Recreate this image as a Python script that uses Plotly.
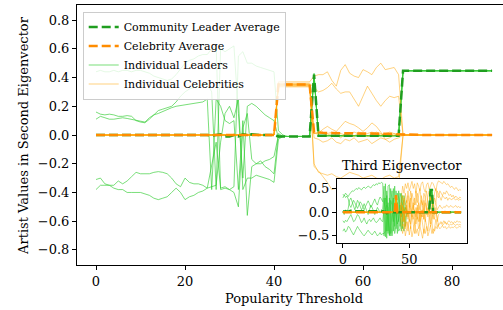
import plotly.graph_objects as go

threshold = list(range(90))

# ---------------- Second eigenvector (main panel) ----------------
# segments: x 0-25 | 26-40 | 41-48 | 49 | 50-68 | 69-89
leaders_settled_50_68 = [-0.005, -0.005, -0.005, -0.005, -0.005, -0.005, -0.005, -0.005, -0.005, -0.005,
                         -0.005, -0.005, -0.005, -0.005, -0.005, -0.005, -0.005, -0.005, -0.005]
leaders_converged_69_89 = [0.447, 0.447, 0.447, 0.447, 0.447, 0.447, 0.447, 0.447, 0.447, 0.447,
                           0.447, 0.447, 0.447, 0.447, 0.447, 0.447, 0.447, 0.447, 0.447, 0.447, 0.447]

leader_1 = ([0.44, 0.45, 0.44, 0.44, 0.45, 0.44, 0.45, 0.45, 0.44, 0.45, 0.45, 0.44, 0.43,
             0.41, 0.40, 0.39, 0.38, 0.39, 0.42, 0.46, 0.50, 0.52, 0.53, 0.55, 0.56, 0.56]
            + [0.60, 0.62, -0.38, -0.37, -0.38, -0.36, 0.55, 0.58, 0.50, 0.50, 0.48, 0.47, 0.46, 0.45, 0.44]
            + [0.03, 0.00, -0.01, -0.01, -0.01, -0.01, -0.01, -0.01]
            + [0.43] + leaders_settled_50_68 + leaders_converged_69_89)
leader_2 = ([0.16, 0.145, 0.14, 0.145, 0.14, 0.13, 0.13, 0.135, 0.13, 0.10, 0.09, 0.085, 0.11,
             0.14, 0.17, 0.18, 0.19, 0.20, 0.23, 0.27, 0.30, 0.32, 0.33, 0.34, 0.35, 0.36]
            + [0.30, -0.38, 0.60, 0.58, 0.60, 0.62, 0.15, -0.30, 0.20, 0.22, 0.20, 0.17, 0.14, 0.12, 0.10]
            + [-0.02, -0.01, -0.01, -0.01, -0.01, -0.01, -0.01, -0.01]
            + [0.42] + leaders_settled_50_68 + leaders_converged_69_89)
leader_3 = ([0.11, 0.13, 0.12, 0.11, 0.11, 0.115, 0.12, 0.115, 0.11, 0.10, 0.095, 0.09, 0.12,
             0.14, 0.15, 0.165, 0.18, 0.19, 0.20, 0.205, 0.21, 0.21, 0.215, 0.22, 0.23, 0.25]
            + [-0.38, 0.25, 0.20, 0.10, 0.08, 0.10, -0.38, 0.10, -0.56, -0.22, -0.20, -0.18, -0.22, -0.24, -0.27]
            + [0.01, -0.01, -0.01, -0.01, -0.01, -0.01, -0.01, -0.01]
            + [0.41] + leaders_settled_50_68 + leaders_converged_69_89)
leader_4 = ([-0.31, -0.30, -0.34, -0.35, -0.35, -0.32, -0.34, -0.32, -0.29, -0.26, -0.27, -0.27, -0.27,
             -0.26, -0.255, -0.26, -0.27, -0.30, -0.34, -0.36, -0.30, -0.33, -0.34, -0.34, -0.35, -0.37]
            + [-0.36, -0.35, -0.05, 0.15, 0.20, 0.12, 0.25, -0.38, -0.30, -0.30, -0.28, -0.29, -0.30, -0.31, -0.33]
            + [-0.03, -0.01, -0.01, -0.01, -0.01, -0.01, -0.01, -0.01]
            + [0.40] + leaders_settled_50_68 + leaders_converged_69_89)
leader_5 = ([-0.38, -0.35, -0.35, -0.35, -0.37, -0.38, -0.38, -0.40, -0.40, -0.40, -0.40, -0.41, -0.42,
             -0.44, -0.45, -0.44, -0.43, -0.40, -0.37, -0.40, -0.45, -0.43, -0.42, -0.40, -0.39, -0.37]
            + [-0.20, -0.05, -0.37, -0.36, -0.38, -0.40, -0.50, 0.05, 0.15, -0.17, -0.20, -0.20, -0.18, -0.17, -0.15]
            + [0.00, -0.01, -0.01, -0.01, -0.01, -0.01, -0.01, -0.01]
            + [0.42] + leaders_settled_50_68 + leaders_converged_69_89)

leader_avg = ([0.0, 0.0, 0.0, 0.0, 0.0, 0.0, 0.0, 0.0, 0.0, 0.0, 0.0, 0.0, 0.0,
               0.005, 0.005, 0.005, 0.005, 0.005, 0.005, 0.005, 0.005, 0.005, 0.0, 0.0, 0.0, 0.0]
              + [-0.005, 0.0, 0.005, -0.01, -0.01, 0.0, -0.01, 0.005, 0.0, 0.005, 0.0, 0.0, 0.0, 0.0, 0.0]
              + [-0.01, -0.01, -0.01, -0.01, -0.01, -0.01, -0.01, -0.01]
              + [0.42] + leaders_settled_50_68 + leaders_converged_69_89)

celebs_zero_0_40 = [0.0, 0.0, 0.0, 0.0, 0.0, 0.0, 0.0, 0.0, 0.0, 0.0,
                    0.0, 0.0, 0.0, 0.0, 0.0, 0.0, 0.0, 0.0, 0.0, 0.0,
                    0.0, 0.0, 0.0, 0.0, 0.0, 0.0, 0.0, 0.0, 0.0, 0.0,
                    0.0, 0.0, 0.0, 0.0, 0.0, 0.0, 0.0, 0.0, 0.0, 0.0, 0.0]
celebs_zero_69_89 = [0.0, 0.0, 0.0, 0.0, 0.0, 0.0, 0.0, 0.0, 0.0, 0.0,
                     0.0, 0.0, 0.0, 0.0, 0.0, 0.0, 0.0, 0.0, 0.0, 0.0, 0.0]

# segments: x 0-40 | 41-48 | 49-68 | 69-89
celeb_1 = (celebs_zero_0_40 + [0.37, 0.37, 0.37, 0.37, 0.37, 0.37, 0.37, 0.37]
           + [0.41, 0.42, 0.42, 0.44, 0.38, 0.34, 0.45, 0.49, 0.43, 0.41,
              0.40, 0.455, 0.44, 0.42, 0.47, 0.50, 0.455, 0.46, 0.47, 0.42] + celebs_zero_69_89)
celeb_2 = (celebs_zero_0_40 + [0.36, 0.36, 0.36, 0.36, 0.36, 0.36, 0.36, 0.36]
           + [0.33, 0.30, 0.31, 0.33, 0.36, 0.32, 0.29, 0.30, 0.30, 0.25,
              0.20, 0.27, 0.34, 0.29, 0.24, 0.20, 0.24, 0.27, 0.26, 0.27] + celebs_zero_69_89)
celeb_3 = (celebs_zero_0_40 + [0.355, 0.355, 0.355, 0.355, 0.355, 0.355, 0.355, 0.355]
           + [0.01, 0.014, 0.04, 0.06, 0.04, 0.025, 0.06, 0.095, 0.08, 0.07,
              0.05, 0.025, 0.05, 0.084, 0.06, 0.02, -0.03, -0.02, 0.0, 0.0] + celebs_zero_69_89)
celeb_4 = (celebs_zero_0_40 + [0.35, 0.35, 0.35, 0.35, 0.35, 0.35, 0.35, 0.35]
           + [-0.20, -0.26, -0.27, -0.28, -0.27, -0.29, -0.30, -0.28, -0.26, -0.27,
              -0.28, -0.30, -0.29, -0.28, -0.30, -0.31, -0.29, -0.28, -0.30, -0.29] + celebs_zero_69_89)
celeb_5 = (celebs_zero_0_40 + [0.35, 0.35, 0.35, 0.35, 0.35, 0.35, 0.35, 0.35]
           + [-0.22, -0.25, -0.29, -0.33, -0.38, -0.37, -0.36, -0.38, -0.40, -0.37,
              -0.36, -0.39, -0.38, -0.37, -0.40, -0.38, -0.36, -0.37, -0.39, -0.36] + celebs_zero_69_89)
celeb_6 = (celebs_zero_0_40 + [0.345, 0.345, 0.345, 0.345, 0.345, 0.345, 0.345, 0.345]
           + [0.02, 0.0, -0.01, 0.01, 0.02, 0.0, -0.02, 0.01, 0.0, -0.01,
              0.02, 0.01, -0.01, 0.0, 0.02, 0.01, 0.0, -0.01, 0.01, 0.0] + celebs_zero_69_89)
celeb_7 = (celebs_zero_0_40 + [0.34, 0.34, 0.34, 0.34, 0.34, 0.34, 0.34, 0.34]
           + [-0.02, -0.03, -0.05, -0.04, -0.02, -0.05, -0.06, -0.03, -0.04, -0.02,
              -0.05, -0.04, -0.03, -0.06, -0.04, -0.02, -0.03, -0.05, -0.03, -0.02] + celebs_zero_69_89)
celeb_8 = (celebs_zero_0_40 + [0.335, 0.335, 0.335, 0.335, 0.335, 0.335, 0.335, 0.335]
           + [0.01, 0.02, 0.01, 0.0, 0.01, 0.02, 0.01, 0.0, 0.01, 0.02,
              0.01, 0.0, 0.01, 0.02, 0.01, 0.0, 0.01, 0.02, 0.01, 0.0] + celebs_zero_69_89)

celeb_avg = (celebs_zero_0_40 + [0.352, 0.352, 0.352, 0.352, 0.352, 0.352, 0.352, 0.352]
             + [0.02, 0.015, 0.015, 0.014, 0.013, 0.013, 0.012, 0.012, 0.012, 0.011,
                0.011, 0.010, 0.010, 0.010, 0.009, 0.008, 0.008, 0.007, 0.006, 0.005] + celebs_zero_69_89)

# ---------------- Third eigenvector (inset) ----------------
# leaders: x 0-30 | 31-48 | 49-89
inset_leaders_tail_49_89 = [0.0, 0.0, 0.0, 0.0, 0.0, 0.0, 0.0, 0.0, 0.0, 0.0,
                            0.0, 0.0, 0.0, 0.0, 0.0, 0.0, 0.0, 0.47, 0.47, 0.0,
                            0.0, 0.0, 0.0, 0.0, 0.0, 0.0, 0.0, 0.0, 0.0, 0.0,
                            0.0, 0.0, 0.0, 0.0, 0.0, 0.0, 0.0, 0.0, 0.0, 0.0, 0.0]
inset_leader_1 = ([0.38, 0.35, 0.40, 0.36, 0.33, 0.38, 0.42, 0.45, 0.44, 0.47, 0.50, 0.48, 0.52, 0.49, 0.47, 0.51,
                   0.53, 0.50, 0.52, 0.55, 0.53, 0.51, 0.55, 0.58, 0.56, 0.60, 0.58, 0.62, 0.60, 0.63, 0.61]
                  + [-0.50, 0.60, -0.40, 0.55, 0.58, -0.45, 0.20, 0.50, -0.30, 0.45, 0.10, -0.20, 0.40, 0.30,
                     -0.35, 0.35, 0.20, 0.05] + inset_leaders_tail_49_89)
inset_leader_2 = ([0.30, 0.36, 0.31, 0.34, 0.28, 0.15, 0.10, 0.18, 0.25, 0.20, 0.12, 0.08, 0.15, 0.22, 0.18, 0.10,
                   0.05, 0.12, 0.20, 0.24, 0.18, 0.10, 0.15, 0.22, 0.28, 0.20, 0.15, 0.25, 0.32, 0.28, 0.22]
                  + [0.55, -0.52, 0.45, -0.40, 0.10, 0.50, -0.50, -0.20, 0.55, -0.35, 0.40, 0.30, -0.30, 0.10,
                     0.35, -0.20, 0.10, 0.02] + inset_leaders_tail_49_89)
inset_leader_3 = ([-0.18, -0.22, -0.17, -0.20, -0.15, -0.10, -0.05, -0.12, -0.20, -0.18, -0.10, -0.05, -0.08,
                   -0.15, -0.22, -0.18, -0.12, -0.20, -0.25, -0.18, -0.15, -0.20, -0.17, -0.12, -0.18, -0.22,
                   -0.20, -0.15, -0.12, -0.18, -0.20]
                  + [0.10, 0.30, -0.55, 0.20, -0.50, 0.20, 0.45, -0.40, 0.10, 0.25, -0.45, 0.45, 0.10, -0.40,
                     0.20, 0.25, -0.30, -0.05] + inset_leaders_tail_49_89)
inset_leader_4 = ([-0.40, -0.35, -0.42, -0.38, -0.30, -0.32, -0.38, -0.45, -0.48, -0.42, -0.35, -0.30, -0.35,
                   -0.40, -0.44, -0.47, -0.50, -0.45, -0.40, -0.38, -0.42, -0.46, -0.48, -0.44, -0.40, -0.45,
                   -0.50, -0.47, -0.43, -0.48, -0.45]
                  + [-0.45, -0.40, 0.35, -0.45, 0.30, -0.50, -0.30, 0.30, -0.45, -0.30, 0.20, -0.40, -0.35, 0.40,
                     -0.30, -0.40, -0.10, -0.03] + inset_leaders_tail_49_89)
inset_leader_5 = ([0.02, -0.05, 0.05, -0.02, 0.08, 0.25, 0.30, 0.22, 0.10, 0.05, 0.15, 0.25, 0.20, 0.12, 0.05,
                   0.10, 0.18, 0.10, 0.02, -0.05, 0.05, 0.15, 0.10, 0.02, -0.05, 0.03, 0.10, 0.05, -0.02, 0.04, 0.08]
                  + [0.30, 0.05, 0.15, 0.10, -0.48, 0.25, 0.15, -0.20, 0.10, -0.05, -0.25, -0.15, 0.15, -0.10,
                     0.10, 0.00, 0.10, 0.01] + inset_leaders_tail_49_89)
inset_leader_avg = ([0.02, 0.01, 0.02, 0.01, 0.01, 0.02, 0.03, 0.02, 0.01, 0.01, 0.02, 0.02, 0.02, 0.02, 0.01,
                     0.01, 0.01, 0.01, 0.01, 0.02, 0.01, 0.01, 0.02, 0.02, 0.02, 0.02, 0.02, 0.03, 0.03, 0.03, 0.02]
                    + [0.0, 0.01, -0.02, 0.0, 0.0, 0.0, 0.0, 0.0, 0.0, 0.0, 0.0, 0.0, 0.0, 0.0, 0.0, 0.0, 0.0, 0.0]
                    + inset_leaders_tail_49_89)

# celebrities: x 0-43 | 44-89
inset_celebs_head_0_43 = [0.0, 0.0, 0.0, 0.0, 0.0, 0.0, 0.0, 0.0, 0.0, 0.0,
                          0.0, 0.0, 0.0, 0.0, 0.0, 0.0, 0.0, 0.0, 0.0, 0.0,
                          0.0, 0.0, 0.0, 0.0, 0.0, 0.0, 0.0, 0.0, 0.0, 0.0,
                          0.0, 0.0, 0.0, 0.0, 0.0, 0.0, 0.0, 0.0, 0.0, 0.0,
                          0.36, 0.0, 0.0, 0.0]
inset_celeb_1 = inset_celebs_head_0_43 + [
    0.30, 0.55, 0.40, 0.60, 0.50, 0.62, 0.45, 0.58, 0.65, 0.50, 0.60, 0.40, 0.62, 0.55, 0.45, 0.60,
    0.64, 0.50, 0.42, 0.58, 0.62, 0.48, 0.55, 0.63, 0.60, 0.50, 0.45, 0.60, 0.66, 0.64, 0.62, 0.60,
    0.65, 0.62, 0.58, 0.60, 0.55, 0.52, 0.55, 0.50, 0.48, 0.52, 0.50, 0.45, 0.48, 0.46]
inset_celeb_2 = inset_celebs_head_0_43 + [
    0.10, 0.35, 0.15, 0.40, 0.20, 0.45, 0.25, 0.10, 0.40, 0.30, 0.15, 0.45, 0.20, 0.35, 0.50, 0.25,
    0.15, 0.40, 0.30, 0.10, 0.35, 0.45, 0.20, 0.30, 0.15, 0.40, 0.50, 0.35, 0.30, 0.45, 0.40, 0.35,
    0.42, 0.38, 0.45, 0.40, 0.35, 0.38, 0.32, 0.36, 0.30, 0.34, 0.30, 0.28, 0.32, 0.30]
inset_celeb_3 = inset_celebs_head_0_43 + [
    -0.10, 0.15, -0.20, 0.10, 0.25, -0.15, 0.05, 0.30, -0.10, 0.20, 0.00, -0.25, 0.15, 0.05, -0.20, 0.25,
    0.10, -0.15, 0.20, 0.05, -0.10, 0.15, 0.30, 0.00, -0.15, 0.10, 0.20, 0.05, 0.12, 0.15, 0.10, 0.08,
    0.12, 0.10, 0.15, 0.12, 0.10, 0.14, 0.12, 0.10, 0.12, 0.14, 0.10, 0.12, 0.10, 0.11]
inset_celeb_4 = inset_celebs_head_0_43 + [
    -0.30, -0.45, -0.25, -0.50, -0.35, -0.20, -0.48, -0.30, -0.52, -0.40, -0.25, -0.45, -0.35, -0.50,
    -0.30, -0.42, -0.55, -0.35, -0.45, -0.30, -0.50, -0.40, -0.28, -0.45, -0.35, -0.40, -0.30, -0.35,
    -0.25, -0.22, -0.20, -0.24, -0.18, -0.22, -0.25, -0.20, -0.18, -0.22, -0.20, -0.24, -0.20, -0.22,
    -0.18, -0.21, -0.20, -0.22]
inset_celeb_5 = inset_celebs_head_0_43 + [
    -0.15, -0.30, -0.10, -0.35, -0.20, -0.40, -0.15, -0.25, -0.05, -0.30, -0.45, -0.20, -0.10, -0.35,
    -0.25, -0.05, -0.30, -0.45, -0.15, -0.25, -0.40, -0.10, -0.30, -0.20, -0.45, -0.35, -0.15, -0.30,
    -0.28, -0.25, -0.22, -0.28, -0.25, -0.20, -0.26, -0.24, -0.28, -0.25, -0.27, -0.24, -0.26, -0.28,
    -0.25, -0.27, -0.26, -0.27]
inset_celeb_6 = inset_celebs_head_0_43 + [
    0.20, 0.05, 0.30, 0.15, 0.00, 0.35, 0.10, 0.45, 0.20, 0.05, 0.30, 0.15, 0.40, 0.25, 0.05, 0.35,
    0.20, 0.00, 0.30, 0.45, 0.15, 0.05, 0.40, 0.25, 0.10, 0.30, 0.20, 0.45, 0.38, 0.30, 0.25, 0.35,
    0.30, 0.28, 0.32, 0.25, 0.30, 0.28, 0.26, 0.30, 0.28, 0.26, 0.28, 0.25, 0.27, 0.26]
inset_celeb_7 = inset_celebs_head_0_43 + [
    -0.05, 0.10, -0.15, 0.05, -0.10, 0.00, -0.20, 0.10, -0.05, -0.15, 0.05, -0.10, 0.10, -0.20, 0.00,
    -0.10, 0.05, -0.15, 0.00, -0.05, 0.10, -0.10, 0.00, -0.20, 0.05, -0.05, 0.00, -0.10, -0.30, -0.35,
    -0.32, -0.28, -0.33, -0.30, -0.35, -0.32, -0.30, -0.34, -0.31, -0.33, -0.30, -0.32, -0.34, -0.31,
    -0.30, -0.32]
inset_celeb_8 = inset_celebs_head_0_43 + [
    0.05, -0.20, 0.10, -0.30, 0.15, -0.10, 0.20, -0.35, 0.05, 0.15, -0.25, 0.10, -0.15, 0.20, -0.30,
    0.05, -0.10, 0.25, -0.20, 0.10, -0.05, 0.20, -0.25, 0.10, 0.00, -0.15, 0.10, -0.20, -0.05, 0.00,
    0.02, -0.02, 0.00, 0.03, -0.01, 0.00, 0.02, 0.00, -0.02, 0.01, 0.00, 0.02, 0.00, -0.01, 0.00, 0.01]
inset_celeb_avg = inset_celebs_head_0_43 + [
    0.0, 0.01, 0.0, 0.0, 0.01, 0.0, 0.0, 0.01, 0.0, 0.0, 0.01, 0.0, 0.0, 0.0, 0.0, 0.01,
    0.0, 0.0, 0.0, 0.01, 0.0, 0.0, 0.01, 0.0, 0.0, 0.0, 0.01, 0.0, 0.0, 0.0, 0.0, 0.0,
    0.0, 0.0, 0.0, 0.0, 0.0, 0.0, 0.0, 0.0, 0.0, 0.0, 0.0, 0.0, 0.0, 0.0]

main_leaders = [leader_1, leader_2, leader_3, leader_4, leader_5]
main_celebs = [celeb_1, celeb_2, celeb_3, celeb_4, celeb_5, celeb_6, celeb_7, celeb_8]
inset_leaders = [inset_leader_1, inset_leader_2, inset_leader_3, inset_leader_4, inset_leader_5]
inset_celebs = [inset_celeb_1, inset_celeb_2, inset_celeb_3, inset_celeb_4,
                inset_celeb_5, inset_celeb_6, inset_celeb_7, inset_celeb_8]

for name, s in [("leader_avg", leader_avg), ("celeb_avg", celeb_avg),
                ("inset_leader_avg", inset_leader_avg), ("inset_celeb_avg", inset_celeb_avg)] + \
        [("L%d" % i, s) for i, s in enumerate(main_leaders)] + \
        [("C%d" % i, s) for i, s in enumerate(main_celebs)] + \
        [("IL%d" % i, s) for i, s in enumerate(inset_leaders)] + \
        [("IC%d" % i, s) for i, s in enumerate(inset_celebs)]:
    if len(s) != len(threshold):
        raise ValueError("%s has %d values" % (name, len(s)))

# ---------------- styles ----------------
FONT = "DejaVu Serif"
LEADER_AVG_C = "#1f9e1f"
CELEB_AVG_C = "#ff8c00"
LEADER_C = "rgba(50,205,50,0.65)"
CELEB_C = "rgba(255,165,0,0.5)"

fig = go.Figure()


def add_group(series_list, color, width, name, rank, xa, ya, show, dash=None):
    for i, s in enumerate(series_list):
        fig.add_trace(go.Scatter(
            x=threshold, y=s, mode="lines", xaxis=xa, yaxis=ya,
            line=dict(color=color, width=width, dash=dash),
            name=name, legendgroup=name, legendrank=rank,
            showlegend=(show and i == 0), hoverinfo="skip"))


# main panel
add_group(main_leaders, LEADER_C, 1, "Individual Leaders", 3, "x", "y", True)
add_group(main_celebs, CELEB_C, 1, "Individual Celebrities", 4, "x", "y", True)
add_group([leader_avg], LEADER_AVG_C, 2.5, "Community Leader Average", 1, "x", "y", True, "9px,4px")
add_group([celeb_avg], CELEB_AVG_C, 2.5, "Celebrity Average", 2, "x", "y", True, "9px,4px")
# inset
add_group(inset_leaders, LEADER_C, 0.9, "Individual Leaders", 3, "x2", "y2", False)
add_group(inset_celebs, CELEB_C, 0.9, "Individual Celebrities", 4, "x2", "y2", False)
add_group([inset_leader_avg], LEADER_AVG_C, 2.5, "Community Leader Average", 1, "x2", "y2", False, "9px,4px")
add_group([inset_celeb_avg], CELEB_AVG_C, 2.5, "Celebrity Average", 2, "x2", "y2", False, "9px,4px")

axis_common = dict(showgrid=False, zeroline=False, showline=True, linecolor="black", linewidth=1,
                   ticks="outside", ticklen=4, tickwidth=1, tickcolor="black",
                   tickfont=dict(family=FONT, size=13, color="black"))

fig.update_layout(
    width=503, height=310,
    margin=dict(l=77, r=0, t=5, b=45),
    paper_bgcolor="white", plot_bgcolor="white",
    font=dict(family=FONT, size=13, color="black"),
    hovermode=False,
    xaxis=dict(domain=[0, 1], range=[-4.27, 91.46], tickvals=[0, 20, 40, 60, 80],
               mirror=True, **axis_common),
    yaxis=dict(domain=[0, 1], range=[-0.905, 0.905],
               tickvals=[-0.8, -0.6, -0.4, -0.2, 0.0, 0.2, 0.4, 0.6, 0.8], tickformat=".1f",
               **axis_common),
    xaxis2=dict(domain=[0.6103, 0.9155], range=[-4.45, 93.45], tickvals=[0, 50],
                anchor="y2", mirror=True, **axis_common),
    yaxis2=dict(domain=[0.0846, 0.3308], range=[-0.65, 0.70], tickvals=[-0.5, 0.0, 0.5],
                tickformat=".1f", anchor="x2", mirror=True, **axis_common),
    legend=dict(x=0.0134, y=0.975, xanchor="left", yanchor="top",
                bgcolor="rgba(255,255,255,0.8)", bordercolor="#cccccc", borderwidth=1,
                font=dict(family=FONT, size=11, color="black"), itemwidth=30,
                tracegroupgap=0, traceorder="normal"),
    annotations=[
        dict(text="Popularity Threshold", xref="paper", yref="paper", x=0.509, y=-0.127,
             xanchor="center", yanchor="middle", showarrow=False, font=dict(family=FONT, size=13)),
        dict(text="Artist Values in Second Eigenvector", xref="paper", yref="paper", x=-0.127, y=0.5,
             xanchor="center", yanchor="middle", textangle=-90, showarrow=False,
             font=dict(family=FONT, size=13)),
        dict(text="Third Eigenvector", xref="paper", yref="paper", x=0.763, y=0.381,
             xanchor="center", yanchor="middle", showarrow=False, font=dict(family=FONT, size=13)),
    ],
)

fig.write_html("out.html", config={"displayModeBar": False},
               post_script="document.body.style.margin='0px';document.body.style.overflow='hidden';")
